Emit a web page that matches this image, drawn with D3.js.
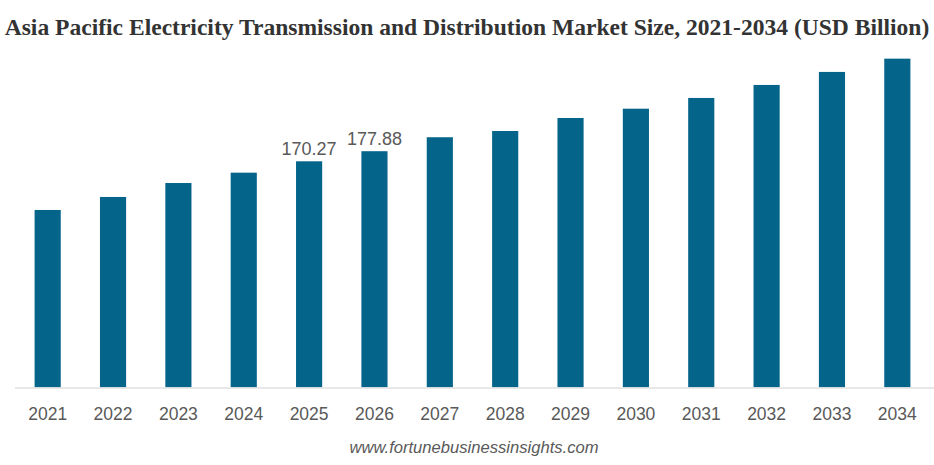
<!DOCTYPE html>
<html>
<head>
<meta charset="utf-8">
<script src="https://cdn.jsdelivr.net/npm/d3@7"></script>
<style>
  body { margin: 0; background: #fff; }
  svg { display: block; }
</style>
</head>
<body>
<svg id="chart" width="934" height="465"></svg>
<script>
const years = ["2021","2022","2023","2024","2025","2026","2027","2028","2029","2030","2031","2032","2033","2034"];
const values = [133.6, 143.4, 153.9, 161.7, 170.27, 177.88, 188.4, 193.1, 202.9, 209.9, 218.0, 227.8, 237.6, 247.6];
const labelledYears = ["2025", "2026"];
const titleText = "Asia Pacific Electricity Transmission and Distribution Market Size, 2021-2034 (USD Billion)";
const sourceText = "www.fortunebusinessinsights.com";

const svg = d3.select("#chart");
const baseY = 387.3;

const x = d3.scaleBand().domain(years).range([15, 930]).paddingInner(0.6).paddingOuter(0.3);
const y = d3.scaleLinear().domain([0, 170.27]).range([baseY, 161.3]);

// title
const title = svg.append("text")
  .attr("x", 467).attr("y", 35)
  .attr("text-anchor", "middle")
  .style("font-family", "'Liberation Serif', 'Times New Roman', serif")
  .style("font-weight", "bold")
  .style("font-size", "21px")
  .style("fill", "#333")
  .text(titleText);
const tw = title.node().getComputedTextLength();
const target = 925;
title.style("font-size", (21 * target / tw).toFixed(2) + "px");

// bars
svg.append("g").selectAll("rect")
  .data(years.map((d, i) => ({year: d, value: values[i]})))
  .join("rect")
  .attr("x", d => x(d.year))
  .attr("width", x.bandwidth())
  .attr("y", d => y(d.value))
  .attr("height", d => y(0) - y(d.value))
  .attr("fill", "#05648a");

// axis
const axis = svg.append("g")
  .attr("transform", `translate(0,${baseY})`)
  .call(d3.axisBottom(x).tickSize(0).tickPadding(0));
axis.select(".domain").attr("stroke", "#e0e0e0").attr("stroke-width", 1.5).attr("d", "M15,0.8H934");
axis.selectAll("text")
  .attr("y", 420 - baseY)
  .attr("dy", null)
  .style("font-family", "'Liberation Sans', Arial, sans-serif")
  .style("font-size", "17.5px")
  .style("fill", "#595959");

// value labels
svg.append("g").selectAll("text")
  .data(years.map((d, i) => ({year: d, value: values[i]})).filter(d => labelledYears.includes(d.year)))
  .join("text")
  .attr("x", d => x(d.year) + x.bandwidth() / 2)
  .attr("y", d => y(d.value) - 6)
  .attr("text-anchor", "middle")
  .style("font-family", "'Liberation Sans', Arial, sans-serif")
  .style("font-size", "18px")
  .style("fill", "#595959")
  .text(d => d.value.toFixed(2));

// source
svg.append("text")
  .attr("x", 474).attr("y", 453)
  .attr("text-anchor", "middle")
  .style("font-family", "'Liberation Sans', Arial, sans-serif")
  .style("font-style", "italic")
  .style("font-size", "16.6px")
  .style("fill", "#595959")
  .text(sourceText);
</script>
</body>
</html>
